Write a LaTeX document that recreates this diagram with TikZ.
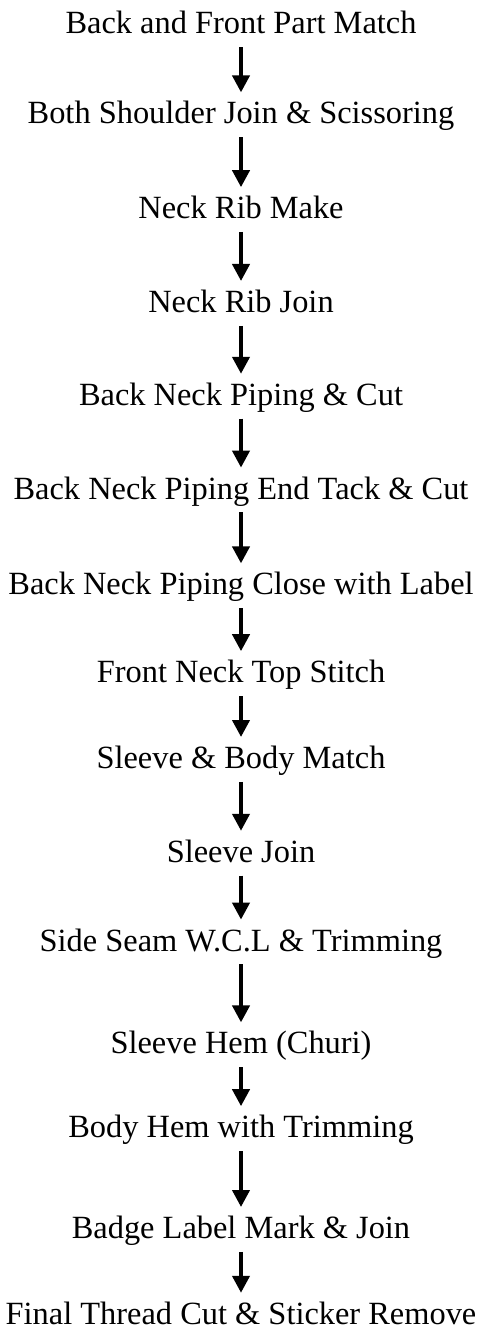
\documentclass[tikz,border=0pt]{standalone}
\usepackage{fontspec}
\setmainfont{Liberation Serif}
\usetikzlibrary{arrows.meta}
\usetikzlibrary{positioning}

\begin{document}
\begin{tikzpicture}[node distance=32pt,
		stage/.style={inner sep=0pt,text height=11pt,text depth=3pt,font=\fontsize{16.2}{19}\selectfont},
		flow/.style={-{Triangle[length=8.5pt,width=8.5pt]},line width=2pt,shorten <=3.5pt,shorten >=4.5pt}]
		\useasboundingbox (0,0) rectangle (239.5pt,-663pt);

		\node [stage,anchor=base] (match) at (120.5pt,-17pt) {Back and Front Part Match};
		\node [stage,below=30.5pt of match] (shoulder) {Both Shoulder Join \& Scissoring};
		\node [stage,below=33pt of shoulder] (ribmake) {Neck Rib Make};
		\node [stage,below=32.5pt of ribmake] (ribjoin) {Neck Rib Join};
		\node [stage,below=of ribjoin] (piping) {Back Neck Piping \& Cut};
		\node [stage,below=32.5pt of piping] (tack) {Back Neck Piping End Tack \& Cut};
		\node [stage,below=33.5pt of tack] (close) {Back Neck Piping Close with Label};
		\node [stage,below=29.5pt of close] (topstitch) {Front Neck Top Stitch};
		\node [stage,below=28.5pt of topstitch] (bodymatch) {Sleeve \& Body Match};
		\node [stage,below=32.5pt of bodymatch] (sleevejoin) {Sleeve Join};
		\node [stage,below=30pt of sleevejoin] (sideseam) {Side Seam W.C.L \& Trimming};
		\node [stage,below=37pt of sideseam] (sleevehem) {Sleeve Hem (Churi)};
		\node [stage,below=27.5pt of sleevehem] (bodyhem) {Body Hem with Trimming};
		\node [stage,below=36pt of bodyhem] (badge) {Badge Label Mark \& Join};
		\node [stage,below=28.5pt of badge] (final) {Final Thread Cut \& Sticker Remove};

		\draw [flow] (match) -- (shoulder);
		\draw [flow] (shoulder) -- (ribmake);
		\draw [flow] (ribmake) -- (ribjoin);
		\draw [flow] (ribjoin) -- (piping);
		\draw [flow] (piping) -- (tack);
		\draw [flow] (tack) -- (close);
		\draw [flow] (close) -- (topstitch);
		\draw [flow] (topstitch) -- (bodymatch);
		\draw [flow] (bodymatch) -- (sleevejoin);
		\draw [flow] (sleevejoin) -- (sideseam);
		\draw [flow] (sideseam) -- (sleevehem);
		\draw [flow] (sleevehem) -- (bodyhem);
		\draw [flow] (bodyhem) -- (badge);
		\draw [flow] (badge) -- (final);
	\end{tikzpicture}
\end{document}
